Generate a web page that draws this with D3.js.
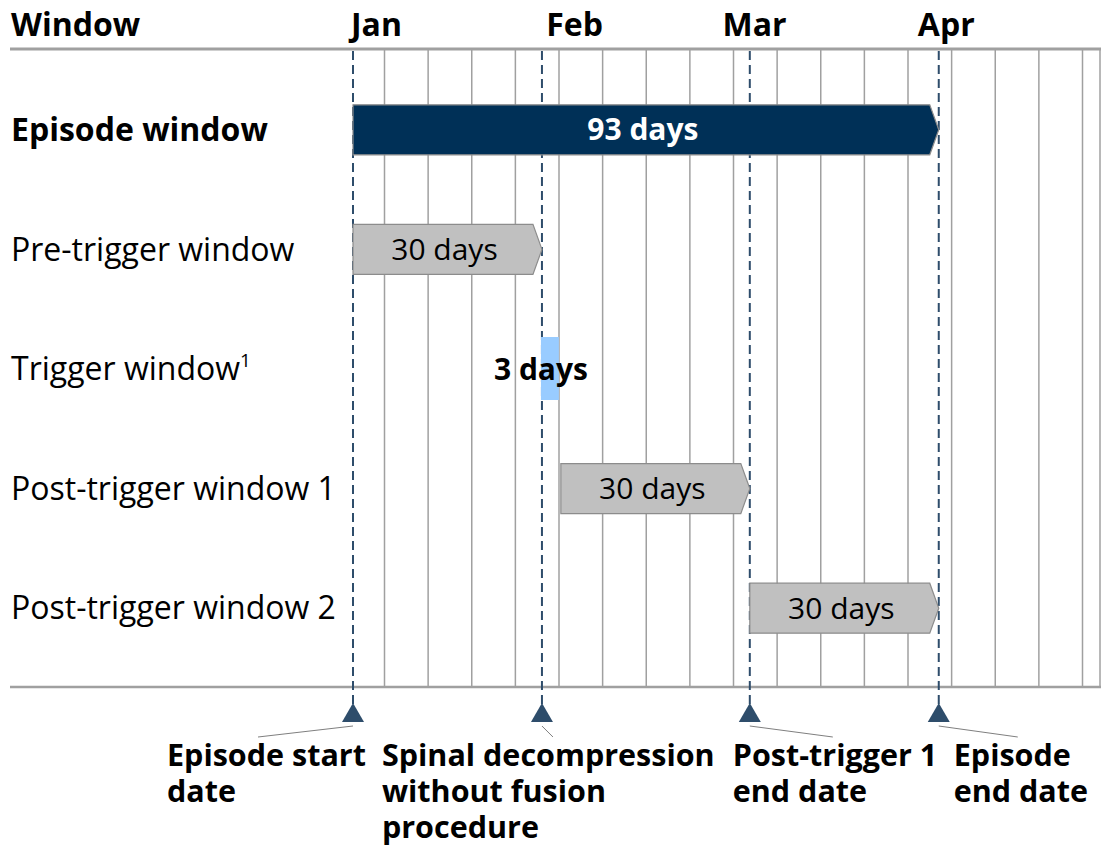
<!DOCTYPE html>
<html>
<head>
<meta charset="utf-8">
<script src="https://cdn.jsdelivr.net/npm/d3@7"></script>
<style>
  body { margin: 0; background: #fff; }
  svg { font-family: "Open Sans", sans-serif; }
</style>
</head>
<body>
<svg width="1106" height="848"></svg>
<script>
// windows (rows), in days from the episode start
var rows = ["Episode window", "Pre-trigger window", "Trigger window", "Post-trigger window 1", "Post-trigger window 2"];
var startDays = [0, 0, 30, 33, 63];
var durations = [93, 30, 3, 30, 30];
var barLabels = ["93 days", "30 days", "3 days", "30 days", "30 days"];

// month headers
var months = ["Jan", "Feb", "Mar", "Apr"];
var monthDays = [0, 31, 59, 90];

// event markers along the bottom
var markerDays = [0, 30, 63, 93];
var markerLabels = [
  ["Episode start", "date"],
  ["Spinal decompression", "without fusion", "procedure"],
  ["Post-trigger 1", "end date"],
  ["Episode", "end date"]
];

var svg = d3.select("svg"),
    width = +svg.attr("width"),
    height = +svg.attr("height");

var topY = 49, bottomY = 687;

var x = d3.scaleLinear().domain([0, 118.6]).range([353, 1100]);
var y = d3.scaleBand().domain(rows).range([70, 668]);

// weekly grid
var gridX = d3.scaleLinear().domain([0, 16]).range([384.5, 1082.5]);

svg.append("g")
    .attr("class", "grid")
  .selectAll("line")
  .data(d3.range(0, 17))
  .enter().append("line")
    .attr("x1", function(d) { return gridX(d); })
    .attr("x2", function(d) { return gridX(d); })
    .attr("y1", topY)
    .attr("y2", bottomY)
    .attr("stroke", "#a0a0a0")
    .attr("stroke-width", 1.5);

svg.append("line")
    .attr("x1", 1100).attr("x2", 1100)
    .attr("y1", topY).attr("y2", bottomY)
    .attr("stroke", "#a0a0a0").attr("stroke-width", 1.5);

// frame lines
svg.append("line")
    .attr("x1", 10).attr("x2", 1101)
    .attr("y1", topY).attr("y2", topY)
    .attr("stroke", "#a0a0a0").attr("stroke-width", 3);
svg.append("line")
    .attr("x1", 10).attr("x2", 1101)
    .attr("y1", bottomY).attr("y2", bottomY)
    .attr("stroke", "#a0a0a0").attr("stroke-width", 2.5);

// dashed event lines
svg.append("g")
  .selectAll("line")
  .data(markerDays)
  .enter().append("line")
    .attr("x1", function(d) { return x(d); })
    .attr("x2", function(d) { return x(d); })
    .attr("y1", topY + 2)
    .attr("y2", 706)
    .attr("stroke", "#2e4d6b")
    .attr("stroke-width", 2)
    .attr("stroke-dasharray", "9,5");

// header
svg.append("text")
    .attr("x", 11).attr("y", 36)
    .attr("font-size", 32).attr("font-weight", "bold")
    .text("Window");

svg.append("g")
  .selectAll("text")
  .data(months)
  .enter().append("text")
    .attr("x", function(d, i) { return x(monthDays[i]) - 2; })
    .attr("y", 36)
    .attr("font-size", 32)
    .attr("font-weight", "bold")
    .text(function(d) { return d; });

// row labels
var labels = svg.append("g")
  .selectAll("text")
  .data(rows)
  .enter().append("text")
    .attr("x", 11)
    .attr("y", function(d) { return y(d) + y.bandwidth() / 2; })
    .attr("dy", "0.35em")
    .attr("font-size", 32)
    .attr("font-weight", function(d, i) { return i == 0 ? "bold" : "normal"; })
    .text(function(d) { return d; });

labels.filter(function(d) { return d == "Trigger window"; })
  .append("tspan")
    .attr("font-size", 19)
    .attr("dy", "-0.7em")
    .text("1");

// bars
var bh = 50, tip = 9;

function chevron(d, i) {
  var x0 = x(startDays[i]), x1 = x(startDays[i] + durations[i]);
  var cy = y(d) + y.bandwidth() / 2;
  var y0 = cy - bh / 2, y1 = cy + bh / 2;
  return [[x0, y0], [x1 - tip, y0], [x1, cy], [x1 - tip, y1], [x0, y1]].join(" ");
}

var bars = svg.append("g").attr("class", "bars");

bars.selectAll("polygon")
  .data(rows.filter(function(d) { return d != "Trigger window"; }))
  .enter().append("polygon")
    .attr("points", function(d) { return chevron(d, rows.indexOf(d)); })
    .attr("fill", function(d) { return d == "Episode window" ? "#003057" : "#c0c0c0"; })
    .attr("stroke", "#8c8c8c")
    .attr("stroke-width", 1.2);

bars.append("rect")
    .attr("x", x(startDays[2]) - 1)
    .attr("width", x(startDays[2] + durations[2]) - x(startDays[2]) - 1)
    .attr("y", y(rows[2]) + y.bandwidth() / 2 - 32)
    .attr("height", 63)
    .attr("fill", "#99ccff");

bars.selectAll("text")
  .data(rows)
  .enter().append("text")
    .attr("x", function(d, i) {
      if (i == 2) return x(startDays[i]) - 1;
      return (x(startDays[i]) + x(startDays[i] + durations[i])) / 2 - 3;
    })
    .attr("y", function(d) { return y(d) + y.bandwidth() / 2; })
    .attr("dy", "0.35em")
    .attr("text-anchor", "middle")
    .attr("font-size", 30)
    .attr("font-weight", function(d, i) { return (i == 0 || i == 2) ? "bold" : "normal"; })
    .attr("fill", function(d, i) { return i == 0 ? "#fff" : "#000"; })
    .text(function(d, i) { return barLabels[i]; });

// markers, leaders and labels
var labelDx = [-186, -160, -17, 15];
var leaderDx = [-95, 11, 83, 79];

var markers = svg.append("g").attr("class", "markers");

markers.selectAll("path")
  .data(markerDays)
  .enter().append("path")
    .attr("d", function(d) {
      var cx = x(d);
      return "M" + cx + ",703 L" + (cx + 11) + ",722 L" + (cx - 11) + ",722 Z";
    })
    .attr("fill", "#2e4d6b");

markers.selectAll("line")
  .data(markerDays)
  .enter().append("line")
    .attr("x1", function(d) { return x(d); })
    .attr("y1", 726)
    .attr("x2", function(d, i) { return x(d) + leaderDx[i]; })
    .attr("y2", 737)
    .attr("stroke", "#7f7f7f")
    .attr("stroke-width", 1);

markers.selectAll("text")
  .data(markerDays)
  .enter().append("text")
    .attr("x", function(d, i) { return x(d) + labelDx[i]; })
    .attr("y", 766)
    .attr("font-size", 30.5)
    .attr("font-weight", "bold")
  .selectAll("tspan")
  .data(function(d, i) { return markerLabels[i]; })
  .enter().append("tspan")
    .attr("x", function() { return d3.select(this.parentNode).attr("x"); })
    .attr("dy", function(d, j) { return j == 0 ? 0 : 36; })
    .text(function(d) { return d; });
</script>
</body>
</html>
